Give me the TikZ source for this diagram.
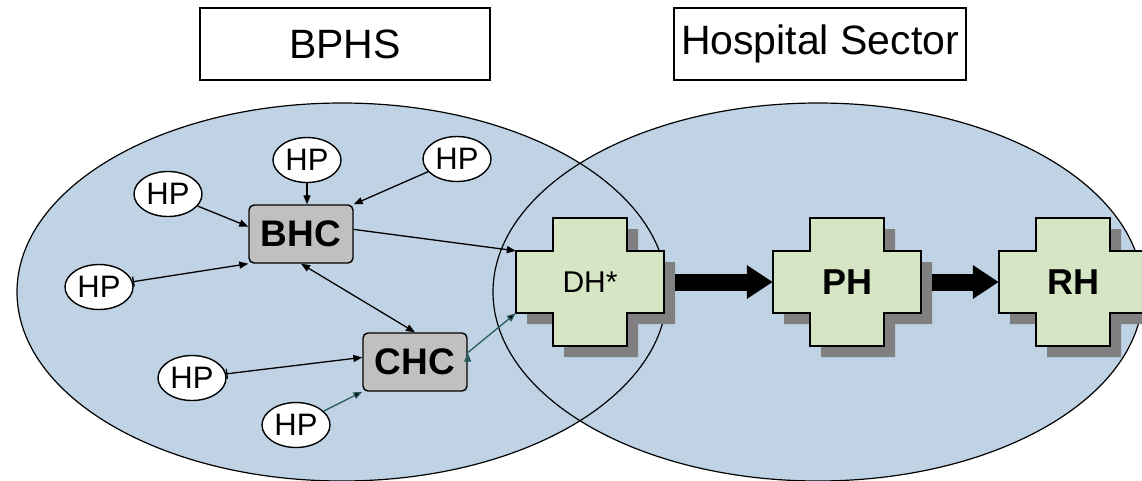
\documentclass[tikz,border=0pt]{standalone}
\usepackage[dvipsnames]{xcolor}
\usepackage{fontspec}
\setmainfont{Liberation Sans}
\usetikzlibrary{shapes.geometric,arrows.meta,positioning}

\definecolor{zoneblue}{RGB}{191,211,229}
\definecolor{crossgreen}{RGB}{214,230,196}
\definecolor{boxgrey}{RGB}{192,192,192}
\definecolor{shadowgrey}{RGB}{128,128,128}
\definecolor{linkteal}{RGB}{40,92,92}

\newcommand{\hospoutline}{(-37,-64) -- (37,-64) -- (37,-31) -- (74,-31) -- (74,31) -- (37,31) -- (37,64) -- (-37,64) -- (-37,31) -- (-74,31) -- (-74,-31) -- (-37,-31) -- cycle}

\tikzset{hospcross/.pic={
    \fill[shadowgrey,shift={(11,11)}] \hospoutline;
    \draw[fill=crossgreen,line width=1.4pt] \hospoutline;
}}

\begin{document}
\begin{tikzpicture}[x=1pt,y=-1pt,>={Triangle[length=9pt,width=7pt]},
    hp node/.style={ellipse,draw,fill=white,line width=1.4pt,minimum width=68pt,minimum height=45pt,inner sep=0pt,font=\fontsize{31}{31}\selectfont},
    centre node/.style={rectangle,rounded corners=5pt,draw,fill=boxgrey,line width=1.4pt,minimum width=104pt,minimum height=58pt,inner sep=0pt,font=\fontsize{37}{37}\selectfont\bfseries},
    hosp node/.style={minimum width=148pt,minimum height=62pt,inner sep=0pt},
    title node/.style={draw,line width=2.5pt,minimum width=290pt,minimum height=72pt,inner sep=0pt,font=\fontsize{41}{41}\selectfont},
    link/.style={->,line width=1.3pt},
    big link/.style={-{Triangle[length=26pt,width=32pt]},line width=17pt,shorten <=11pt}]

    \path[use as bounding box] (0,0) rectangle (1142,480);
    \clip (0,0) rectangle (1142,480);

    % the two zones
    \fill[zoneblue] (342,292) ellipse [x radius=325pt, y radius=189pt];
    \fill[zoneblue] (818,292) ellipse [x radius=325pt, y radius=189pt];
    \draw[line width=1.2pt] (342,292) ellipse [x radius=325pt, y radius=189pt];
    \draw[line width=1.2pt] (818,292) ellipse [x radius=325pt, y radius=189pt];

    \node[title node] (bphs) at (345,44) {BPHS};
    \node[title node,minimum width=292pt] (sector) at (820,44) {Hospital Sector};

    % hospitals
    \coordinate (dhc) at (590,282);
    \coordinate[right=257pt of dhc] (phc);
    \coordinate[right=226pt of phc] (rhc);
    \foreach \c in {dhc,phc,rhc}
        \pic at (\c) {hospcross};

    \node[hosp node,font=\fontsize{30}{30}\selectfont] (dh) at (dhc) {DH*};
    \node[hosp node,font=\fontsize{36}{36}\selectfont\bfseries] (ph) at (phc) {PH};
    \node[hosp node,font=\fontsize{36}{36}\selectfont\bfseries] (rh) at (rhc) {RH};

    \node[centre node] (bhc) at (301,234) {BHC};
    \node[centre node] (chc) at (415,362) {CHC};

    \node[hp node] (hp1) at (307,160) {HP};
    \node[hp node] (hp2) at (457,159) {HP};
    \node[hp node] (hp3) at (168,194) {HP};
    \node[hp node] (hp4) at (99,287) {HP};
    \node[hp node] (hp5) at (192,378) {HP};
    \node[hp node] (hp6) at (296,425) {HP};

    \path[link]
        (hp1) edge (hp1 |- bhc.north)
        (hp2) edge (bhc.north east)
        (hp3) edge (bhc.172)
        (hp4) edge[{Bar[width=10pt]}->] (bhc.south west)
        (bhc.south) edge[<->] (chc.north)
        (bhc.5) edge (dh.north west)
        (hp5) edge[{Bar[width=10pt]}->] (chc.175)
        ;
    \path[link,draw=linkteal]
        (hp6) edge (chc.south west)
        (chc.10) edge (dh.south west)
        ;

    \draw[big link] (dh.east) -- (ph.west);
    \draw[big link] (ph.east) -- (rh.west);
\end{tikzpicture}
\end{document}
